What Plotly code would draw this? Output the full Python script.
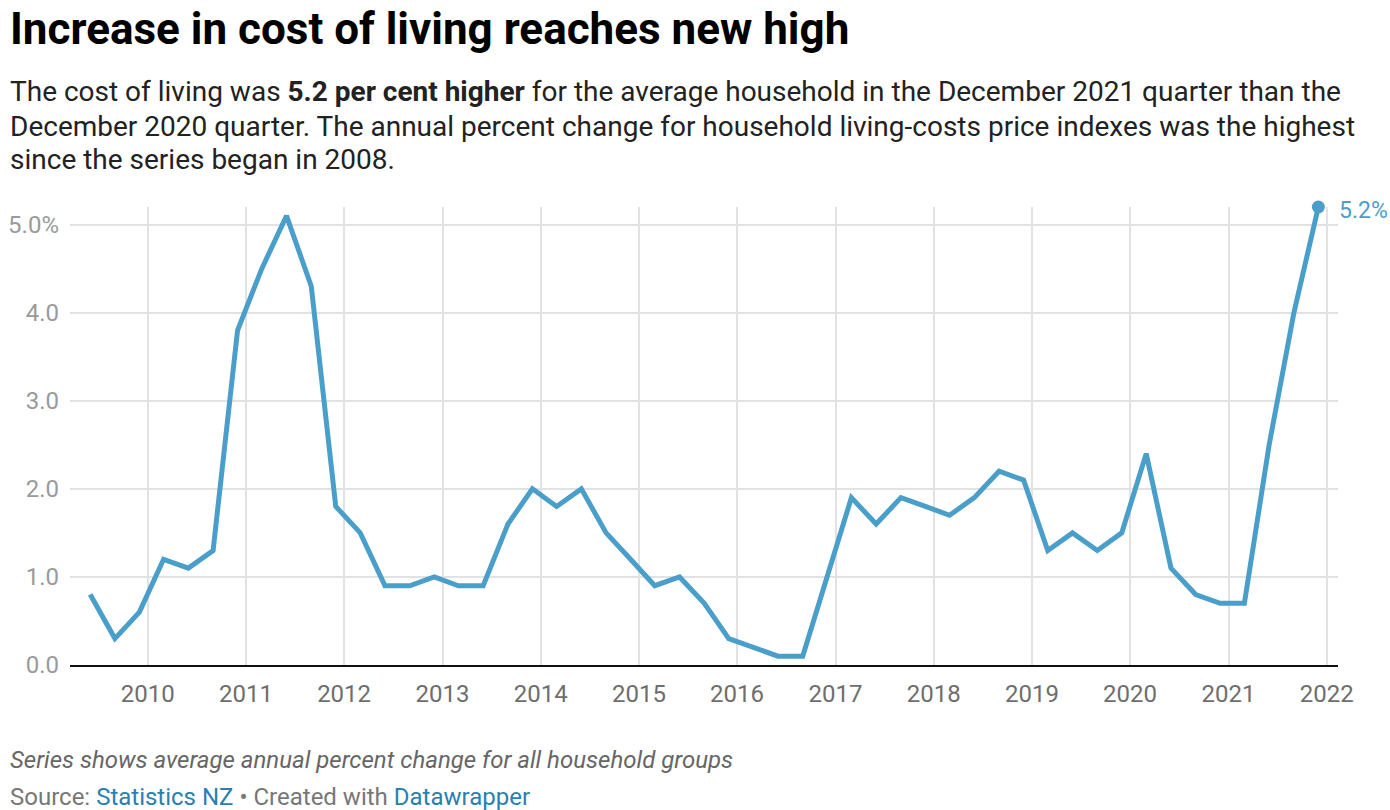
import plotly.graph_objects as go

# Data: quarterly annual % change, household living-costs price index
quarters = [
    "2009-06-01", "2009-09-01", "2009-12-01",
    "2010-03-01", "2010-06-01", "2010-09-01", "2010-12-01",
    "2011-03-01", "2011-06-01", "2011-09-01", "2011-12-01",
    "2012-03-01", "2012-06-01", "2012-09-01", "2012-12-01",
    "2013-03-01", "2013-06-01", "2013-09-01", "2013-12-01",
    "2014-03-01", "2014-06-01", "2014-09-01", "2014-12-01",
    "2015-03-01", "2015-06-01", "2015-09-01", "2015-12-01",
    "2016-03-01", "2016-06-01", "2016-09-01", "2016-12-01",
    "2017-03-01", "2017-06-01", "2017-09-01", "2017-12-01",
    "2018-03-01", "2018-06-01", "2018-09-01", "2018-12-01",
    "2019-03-01", "2019-06-01", "2019-09-01", "2019-12-01",
    "2020-03-01", "2020-06-01", "2020-09-01", "2020-12-01",
    "2021-03-01", "2021-06-01", "2021-09-01", "2021-12-01",
]
values = [
    0.8, 0.3, 0.6,
    1.2, 1.1, 1.3, 3.8,
    4.5, 5.1, 4.3, 1.8,
    1.5, 0.9, 0.9, 1.0,
    0.9, 0.9, 1.6, 2.0,
    1.8, 2.0, 1.5, 1.2,
    0.9, 1.0, 0.7, 0.3,
    0.2, 0.1, 0.1, 1.0,
    1.9, 1.6, 1.9, 1.8,
    1.7, 1.9, 2.2, 2.1,
    1.3, 1.5, 1.3, 1.5,
    2.4, 1.1, 0.8, 0.7,
    0.7, 2.5, 4.0, 5.2,
]
x_tick_vals = [f"{y}-01-01" for y in range(2010, 2023)]
x_tick_text = [str(y) for y in range(2010, 2023)]
y_tick_vals = [0, 1, 2, 3, 4, 5]
y_tick_text = ["0.0", "1.0", "2.0", "3.0", "4.0", "5.0%"]

LINE = "#4a9fca"
LINK = "#2a7fb0"
FONT = "Roboto"

fig = go.Figure()
fig.add_trace(go.Scatter(
    x=quarters, y=values, mode="lines",
    line=dict(color=LINE, width=5), hoverinfo="skip", cliponaxis=False,
))
fig.add_trace(go.Scatter(
    x=[quarters[-1]], y=[values[-1]], mode="markers",
    marker=dict(color=LINE, size=13),
    cliponaxis=False, hoverinfo="skip",
))

W, H = 1390, 810
# plot area in window pixels: x 70..1338, y 207..665
L, T = 70, 207
R = W - 1338
B = H - 665
pw, ph = W - L - R, H - T - B

def px(x):
    return (x - L) / pw

def py(y):
    return (H - B - y) / ph

annos = []
def add_text(text, x, y, size, color="#111", italic=False):
    annos.append(dict(
        text=text, xref="paper", yref="paper", x=px(x), y=py(y),
        xanchor="left", yanchor="middle", showarrow=False, align="left",
        font=dict(size=size, color=color, family=FONT,
                  style="italic" if italic else "normal"),
    ))

add_text("<b>Increase in cost of living reaches new high</b>", 8, 29, 44, "#000")
add_text("The cost of living was <b>5.2 per cent higher</b> for the average household in the December 2021 quarter than the",
         8, 91, 28, "#222")
add_text("December 2020 quarter. The annual percent change for household living-costs price indexes was the highest",
         8, 126, 28, "#222")
add_text("since the series began in 2008.", 8, 160, 28, "#222")
add_text("Series shows average annual percent change for all household groups", 8, 760, 24, "#666", italic=True)
add_text("Source: <span style='color:%s'>Statistics NZ</span> • Created with <span style='color:%s'>Datawrapper</span>" % (LINK, LINK),
         8, 797, 24, "#777")

# end-of-line value label
annos.append(dict(
    text=f"{values[-1]:.1f}%", x=quarters[-1], y=values[-1], xref="x", yref="y",
    xanchor="left", yanchor="middle", xshift=19, yshift=-3, showarrow=False,
    font=dict(size=23, color=LINE, family=FONT),
))

fig.update_layout(
    width=W, height=H,
    margin=dict(l=L, r=R, t=T, b=B, pad=0, autoexpand=False),
    paper_bgcolor="white", plot_bgcolor="white",
    showlegend=False,
    font=dict(family=FONT),
    annotations=annos,
    xaxis=dict(
        type="date",
        range=["2009-03-18", "2022-02-12"],
        tickvals=x_tick_vals, ticktext=x_tick_text,
        showgrid=True, gridcolor="#e2e2e2", gridwidth=1.5,
        showline=True, linecolor="#111", linewidth=2,
        ticks="", tickfont=dict(size=24, color="#6e6e6e", family=FONT),
        ticklabelstandoff=6, automargin=False,
        zeroline=False, fixedrange=True,
    ),
    yaxis=dict(
        range=[0, 5.2],
        tickvals=y_tick_vals, ticktext=y_tick_text,
        showgrid=True, gridcolor="#e2e2e2", gridwidth=1.5,
        zeroline=False, showline=False, ticks="",
        tickfont=dict(size=24, color="#9a9a9a", family=FONT),
        ticklabelstandoff=10, automargin=False,
        fixedrange=True,
    ),
)

fig.write_html("out.html", config={"displayModeBar": False},
               post_script="document.body.style.margin='0';")
